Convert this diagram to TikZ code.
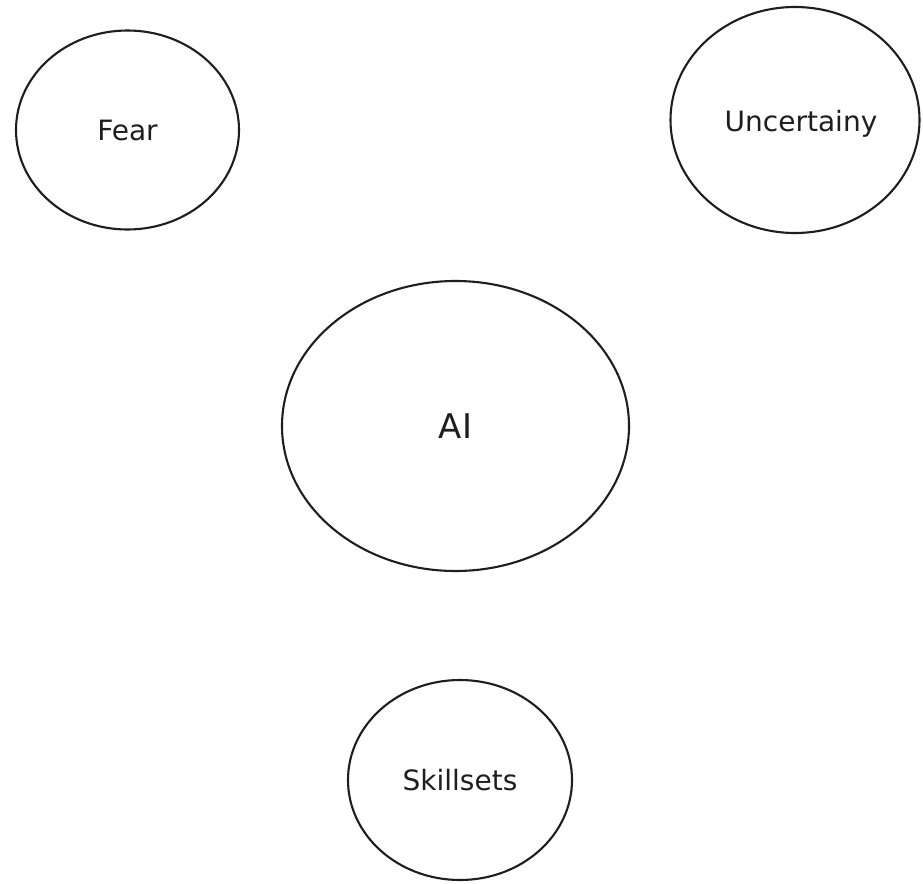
\documentclass[tikz,border=0pt]{standalone}
\usepackage{fontspec}
\setmainfont{DejaVu Sans}
\usetikzlibrary{shapes.geometric}
\definecolor{ink}{HTML}{1E1E1E}
\tikzset{bubble/.style={ellipse, draw=ink, line width=2.1pt, text=ink, inner sep=0pt, font=\fontsize{28}{32}\selectfont}}
\tikzset{lbl/.style={text=ink, font=\fontsize{28}{32}\selectfont}}

\begin{document}
\begin{tikzpicture}[x=1pt, y=-1pt]
        \useasboundingbox[fill=white] (0,0) rectangle (923,883);

        \node[bubble, minimum width=223, minimum height=199] (F) at (127.5,130){Fear};
        \node[bubble, minimum width=249, minimum height=226] (U) at (795,120){};
        \node[bubble, minimum width=347, minimum height=290, font=\fontsize{34}{38}\selectfont] (AI) at (455.5,426){AI};
        \node[bubble, minimum width=224, minimum height=200] (S) at (460,780){Skillsets};

        % this label sits a little right of the centre
        \node[lbl] (Ulbl) at (801,124){Uncertainy};
    \end{tikzpicture}
\end{document}
